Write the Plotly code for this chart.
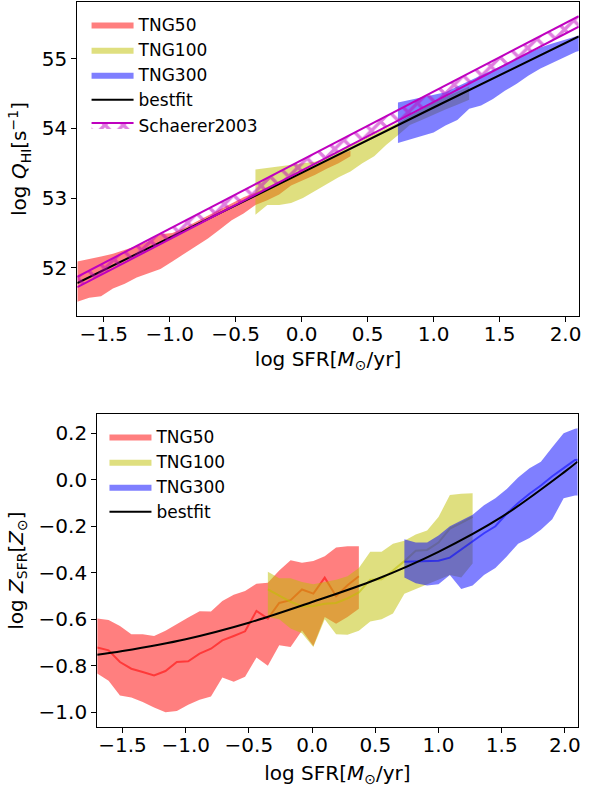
import plotly.graph_objects as go

# ---------------- top panel data (log Q_HI) ----------------
top_x50 = [-1.70, -1.61, -1.52, -1.43, -1.34, -1.25, -1.16, -1.07, -0.98, -0.89, -0.80, -0.71,
           -0.62, -0.53, -0.44, -0.35, -0.26, -0.17, -0.08, 0.01, 0.10, 0.19, 0.28, 0.37]
top_q50_hi = [52.09, 52.12, 52.16, 52.20, 52.25, 52.31, 52.38, 52.48, 52.50, 52.57, 52.66, 52.75,
              52.84, 52.93, 53.01, 53.08, 53.16, 53.24, 53.32, 53.40, 53.47, 53.55, 53.62, 53.68]
top_q50_lo = [51.51, 51.57, 51.59, 51.70, 51.77, 51.86, 51.92, 51.98, 52.09, 52.20, 52.32, 52.42,
              52.55, 52.68, 52.78, 52.90, 52.97, 53.05, 53.18, 53.25, 53.33, 53.42, 53.50, 53.60]

top_x100 = [-0.35, -0.26, -0.17, -0.08, 0.01, 0.10, 0.19, 0.28, 0.37, 0.46, 0.55, 0.64,
            0.73, 0.82, 0.91, 1.00, 1.09, 1.18, 1.27]
top_q100_hi = [53.41, 53.43, 53.45, 53.48, 53.50, 53.52, 53.58, 53.66, 53.74, 53.83, 53.92, 54.00,
               54.08, 54.18, 54.28, 54.37, 54.45, 54.53, 54.60]
top_q100_lo = [52.76, 52.90, 52.90, 52.93, 53.00, 53.10, 53.20, 53.30, 53.38, 53.50, 53.60, 53.76,
               53.90, 54.05, 54.12, 54.20, 54.27, 54.34, 54.41]

top_x300 = [0.73, 0.82, 0.91, 1.00, 1.09, 1.18, 1.27, 1.36, 1.45, 1.54, 1.63, 1.72,
            1.81, 1.90, 1.99, 2.08, 2.17]
top_q300_hi = [54.37, 54.41, 54.44, 54.49, 54.52, 54.60, 54.68, 54.76, 54.85, 54.93, 55.01, 55.09,
               55.16, 55.22, 55.27, 55.33, 55.37]
top_q300_lo = [53.79, 53.84, 53.88, 53.94, 54.04, 54.12, 54.28, 54.33, 54.42, 54.54, 54.64, 54.76,
               54.86, 54.94, 55.02, 55.10, 55.14]

top_fit_x = [-1.7, -1.0, 0.0, 1.0, 2.1]
top_fit_y = [51.78, 52.43, 53.36, 54.30, 55.32]

schaerer_x = [-1.7, 2.1]
schaerer_hi = [51.87, 55.61]
schaerer_lo = [51.72, 55.46]

# ---------------- bottom panel data (log Z_SFR) ----------------
bot_x50 = top_x50
z50_med = [-0.722, -0.734, -0.784, -0.813, -0.827, -0.842, -0.823, -0.784, -0.781, -0.748, -0.727, -0.691,
           -0.672, -0.652, -0.564, -0.597, -0.530, -0.518, -0.472, -0.490, -0.421, -0.501, -0.454, -0.415]
z50_hi = [-0.597, -0.603, -0.629, -0.665, -0.665, -0.672, -0.650, -0.620, -0.593, -0.566, -0.567, -0.522,
          -0.495, -0.479, -0.447, -0.443, -0.390, -0.346, -0.357, -0.349, -0.329, -0.291, -0.286, -0.286]
z50_lo = [-0.834, -0.865, -0.928, -0.937, -0.956, -0.980, -1.000, -0.995, -0.968, -0.946, -0.932, -0.851,
          -0.869, -0.848, -0.765, -0.800, -0.712, -0.720, -0.648, -0.715, -0.590, -0.620, -0.590, -0.555]

bot_x100 = top_x100
z100_med = [-0.472, -0.500, -0.525, -0.545, -0.543, -0.533, -0.530, -0.510, -0.485, -0.430, -0.428, -0.390,
            -0.350, -0.305, -0.302, -0.270, -0.210, -0.185, -0.160]
z100_hi = [-0.396, -0.424, -0.424, -0.440, -0.450, -0.440, -0.430, -0.415, -0.380, -0.310, -0.310, -0.275,
           -0.262, -0.235, -0.218, -0.160, -0.066, -0.060, -0.058]
z100_lo = [-0.590, -0.600, -0.640, -0.660, -0.720, -0.600, -0.665, -0.667, -0.650, -0.610, -0.600, -0.575,
           -0.490, -0.470, -0.450, -0.430, -0.410, -0.420, -0.360]

bot_x300 = top_x300
z300_med = [-0.353, -0.352, -0.350, -0.348, -0.335, -0.300, -0.267, -0.230, -0.200, -0.145, -0.100, -0.060,
            -0.025, 0.015, 0.050, 0.085, 0.090]
z300_hi = [-0.256, -0.270, -0.270, -0.240, -0.200, -0.175, -0.150, -0.110, -0.080, -0.040, 0.010, 0.050,
           0.078, 0.140, 0.200, 0.220, 0.225]
z300_lo = [-0.420, -0.445, -0.455, -0.450, -0.410, -0.470, -0.455, -0.410, -0.380, -0.330, -0.275, -0.250,
           -0.215, -0.170, -0.080, -0.068, -0.066]

bot_fit_x = [-1.7, -1.5, -1.0, -0.5, 0.0, 0.5, 1.0, 1.5, 2.0, 2.1]
bot_fit_y = [-0.753, -0.737, -0.686, -0.615, -0.526, -0.430, -0.310, -0.160, 0.035, 0.078]

# ---------------- styling ----------------
FONT = "DejaVu Sans"
RED_F = "rgba(255,0,0,0.5)"
YEL_F = "rgba(191,191,0,0.5)"
BLU_F = "rgba(0,0,255,0.5)"
MAG = "#BF00BF"

fig = go.Figure()


def band(x, lo, hi, color, name, xa, ya, leg, show=True):
    fig.add_trace(go.Scatter(x=x, y=lo, mode="lines", line=dict(width=0, color=color),
                             hoverinfo="skip", showlegend=False, xaxis=xa, yaxis=ya))
    fig.add_trace(go.Scatter(x=x, y=hi, mode="lines", line=dict(width=0, color=color),
                             fill="tonexty", fillcolor=color, name=name, showlegend=show,
                             xaxis=xa, yaxis=ya, legend=leg))


# top panel
band(top_x50, top_q50_lo, top_q50_hi, RED_F, "TNG50", "x", "y", "legend")
band(top_x100, top_q100_lo, top_q100_hi, YEL_F, "TNG100", "x", "y", "legend")
band(top_x300, top_q300_lo, top_q300_hi, BLU_F, "TNG300", "x", "y", "legend")
fig.add_trace(go.Scatter(x=top_fit_x, y=top_fit_y, mode="lines", line=dict(color="black", width=2),
                         name="bestfit", xaxis="x", yaxis="y", legend="legend"))
fig.add_trace(go.Scatter(x=schaerer_x, y=schaerer_lo, mode="lines", line=dict(color=MAG, width=2),
                         showlegend=False, xaxis="x", yaxis="y"))
fig.add_trace(go.Scatter(x=schaerer_x, y=schaerer_hi, mode="lines", line=dict(color=MAG, width=2),
                         fill="tonexty", fillcolor="rgba(0,0,0,0)",
                         fillpattern=dict(shape="x", fgcolor=MAG, bgcolor="rgba(0,0,0,0)",
                                          size=13, solidity=0.45),
                         name="Schaerer2003", xaxis="x", yaxis="y", legend="legend"))

# bottom panel
band(bot_x50, z50_lo, z50_hi, RED_F, "TNG50", "x2", "y2", "legend2")
fig.add_trace(go.Scatter(x=bot_x50, y=z50_med, mode="lines", line=dict(color="rgba(255,0,0,0.55)", width=2),
                         showlegend=False, xaxis="x2", yaxis="y2"))
band(bot_x100, z100_lo, z100_hi, YEL_F, "TNG100", "x2", "y2", "legend2")
fig.add_trace(go.Scatter(x=bot_x100, y=z100_med, mode="lines", line=dict(color="rgba(191,191,0,0.55)", width=2),
                         showlegend=False, xaxis="x2", yaxis="y2"))
band(bot_x300, z300_lo, z300_hi, BLU_F, "TNG300", "x2", "y2", "legend2")
fig.add_trace(go.Scatter(x=bot_x300, y=z300_med, mode="lines", line=dict(color="rgba(0,0,255,0.55)", width=2),
                         showlegend=False, xaxis="x2", yaxis="y2"))
fig.add_trace(go.Scatter(x=bot_fit_x, y=bot_fit_y, mode="lines", line=dict(color="black", width=2, shape="spline"),
                         name="bestfit", xaxis="x2", yaxis="y2", legend="legend2"))

W, H = 589, 788
axis_common = dict(showline=True, mirror=True, linecolor="black", linewidth=1,
                   ticks="outside", ticklen=5, tickwidth=1, tickcolor="black",
                   showgrid=False, zeroline=False,
                   tickfont=dict(family=FONT, size=20, color="black"))
xtitle = "log SFR[<i>M</i><sub>⊙</sub>/yr]"

fig.update_layout(
    width=W, height=H,
    margin=dict(l=0, r=0, t=0, b=0),
    paper_bgcolor="white", plot_bgcolor="white",
    font=dict(family=FONT, color="black"),
    xaxis=dict(domain=[77.7 / W, 581.7 / W], anchor="y", range=[-1.7, 2.1],
               tick0=-1.5, dtick=0.5, tickformat=".1f", ticklabelstandoff=-5,
               title=dict(text=xtitle, font=dict(size=20), standoff=6), **axis_common),
    yaxis=dict(domain=[1 - 316 / H, 1 - 2 / H], anchor="x", range=[51.307, 55.814],
               tick0=52, dtick=1,
               title=dict(text="log <i>Q</i><sub>HI</sub>[s<sup>−1</sup>]", font=dict(size=20), standoff=9),
               **axis_common),
    xaxis2=dict(domain=[97.7 / W, 580.5 / W], anchor="y2", range=[-1.7, 2.1],
                tick0=-1.5, dtick=0.5, tickformat=".1f", ticklabelstandoff=-5,
                title=dict(text=xtitle, font=dict(size=20), standoff=9), **axis_common),
    yaxis2=dict(domain=[1 - 727.3 / H, 1 - 414 / H], anchor="x2", range=[-1.065, 0.283],
                tick0=0, dtick=0.2, tickformat=".1f",
                title=dict(text="log <i>Z</i><sub>SFR</sub>[<i>Z</i><sub>⊙</sub>]", font=dict(size=20), standoff=9),
                **axis_common),
    legend=dict(x=87 / W, y=1 - 7 / H, xanchor="left", yanchor="top",
                bgcolor="rgba(0,0,0,0)", font=dict(family=FONT, size=17), itemwidth=42,
                traceorder="normal"),
    legend2=dict(x=105 / W, y=1 - 419 / H, xanchor="left", yanchor="top",
                 bgcolor="rgba(0,0,0,0)", font=dict(family=FONT, size=17), itemwidth=42,
                 traceorder="normal"),
)

fig.write_html("out.html", config={"displayModeBar": False},
               post_script="document.body.style.margin='0';")
